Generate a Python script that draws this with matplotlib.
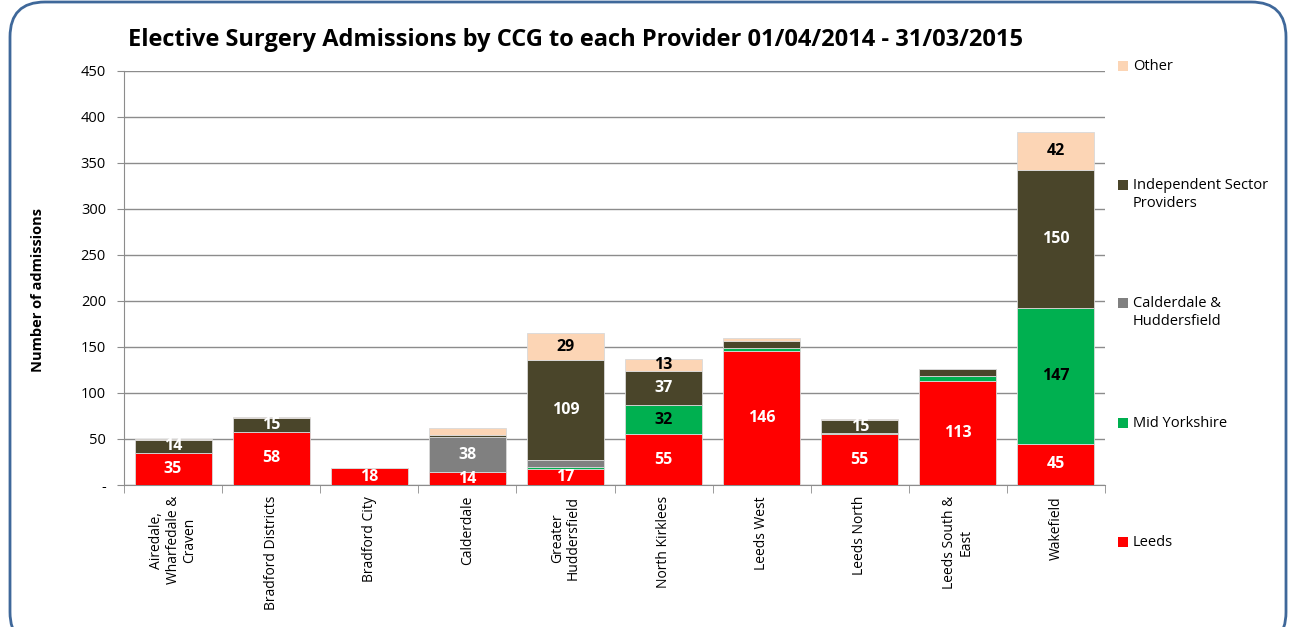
import numpy as np
import matplotlib
matplotlib.use("Agg")
from matplotlib import pyplot as plt
from matplotlib.patches import FancyBboxPatch, Rectangle

plt.rcParams['font.family'] = ['Open Sans', 'DejaVu Sans']

ccgs = ["Airedale,\nWharfedale &\nCraven", "Bradford Districts", "Bradford City", "Calderdale",
        "Greater\nHuddersfield", "North Kirklees", "Leeds West", "Leeds North",
        "Leeds South &\nEast", "Wakefield"]

leeds = [35, 58, 18, 14, 17, 55, 146, 55, 113, 45]
mid_yorkshire = [0, 0, 0, 0, 3, 32, 3, 1, 6, 147]
calderdale_hudd = [0, 0, 0, 38, 7, 0, 0, 0, 0, 0]
independent = [14, 15, 1, 2, 109, 37, 8, 15, 7, 150]
other = [1, 1, 0, 8, 29, 13, 3, 1, 0, 42]

series = [
    ("Leeds", leeds, "#FF0000", "white"),
    ("Mid Yorkshire", mid_yorkshire, "#00B050", "black"),
    ("Calderdale &\nHuddersfield", calderdale_hudd, "#808080", "white"),
    ("Independent Sector\nProviders", independent, "#4A452A", "white"),
    ("Other", other, "#FCD5B5", "black"),
]

W, H = 1292, 627
fig = plt.figure(figsize=(W / 100, H / 100), dpi=100)
ax = fig.add_axes([124 / W, 1 - 485 / H, (1105 - 124) / W, (485 - 71) / H])

# rounded frame round the whole chart
frame = FancyBboxPatch((10 / W, -20 / H), 1276 / W, 645 / H,
                       boxstyle="round,pad=0,rounding_size=0.027",
                       transform=fig.transFigure, fill=False,
                       edgecolor="#3F689A", linewidth=2, mutation_aspect=W / H)
fig.patches.append(frame)

x = np.arange(len(ccgs))
bottom = np.zeros(len(ccgs))
for name, vals, col, tcol in series:
    vals = np.array(vals, dtype=float)
    ax.bar(x, vals, 0.785, bottom=bottom, color=col, edgecolor="#D9D9D9", linewidth=0.6, zorder=3)
    for xi, v, b in zip(x, vals, bottom):
        if v >= 13:
            ax.text(xi, b + v / 2, f"{int(v)}", ha="center", va="center", color=tcol,
                    fontsize=11.5, fontweight="bold", zorder=4)
    bottom += vals

ax.set_xlim(-0.5, len(ccgs) - 0.5)
ax.set_ylim(0, 450)
ax.set_yticks(np.arange(0, 451, 50))
ax.set_yticklabels(["-"] + [str(v) for v in range(50, 451, 50)])
ax.yaxis.grid(True, color="#8C8C8C", linewidth=1, zorder=0)
ax.set_axisbelow(True)
for s in ["top", "right"]:
    ax.spines[s].set_visible(False)
ax.spines["left"].set_color("#8C8C8C")
ax.spines["bottom"].set_color("#8C8C8C")
ax.tick_params(axis="y", length=5, color="#8C8C8C", labelsize=10.5, pad=8)
ax.set_xticks(x)
ax.set_xticklabels(ccgs, rotation=90, fontsize=10, multialignment="center", linespacing=1.1)
ax.tick_params(axis="x", length=0, pad=8)
ax.set_xticks(np.arange(-0.5, len(ccgs)), minor=True)
ax.tick_params(axis="x", which="minor", length=6, color="#8C8C8C")

fig.text(576 / W, 1 - 40 / H, "Elective Surgery Admissions by CCG to each Provider 01/04/2014 - 31/03/2015",
         ha="center", va="center", fontsize=17, fontweight="bold")
fig.text(38 / W, 1 - 290 / H, "Number of admissions", rotation=90, ha="center", va="center",
         fontsize=10.5, fontweight="bold")

# legend, top to bottom in reverse series order
leg_y = [66, 195, 313, 423, 542]
for (name, vals, col, tcol), yy in zip(series[::-1], leg_y):
    nl = name.count("\n")
    top_line = yy - nl * 10
    fig.patches.append(Rectangle(((1118) / W, 1 - (top_line + 5) / H), 10 / W, 10 / H,
                                 transform=fig.transFigure, facecolor=col, edgecolor="none"))
    fig.text(1133 / W, 1 - (top_line - 7) / H, name, ha="left", va="top", fontsize=10.5,
             linespacing=1.3)

fig.savefig("out.png", dpi=100)
